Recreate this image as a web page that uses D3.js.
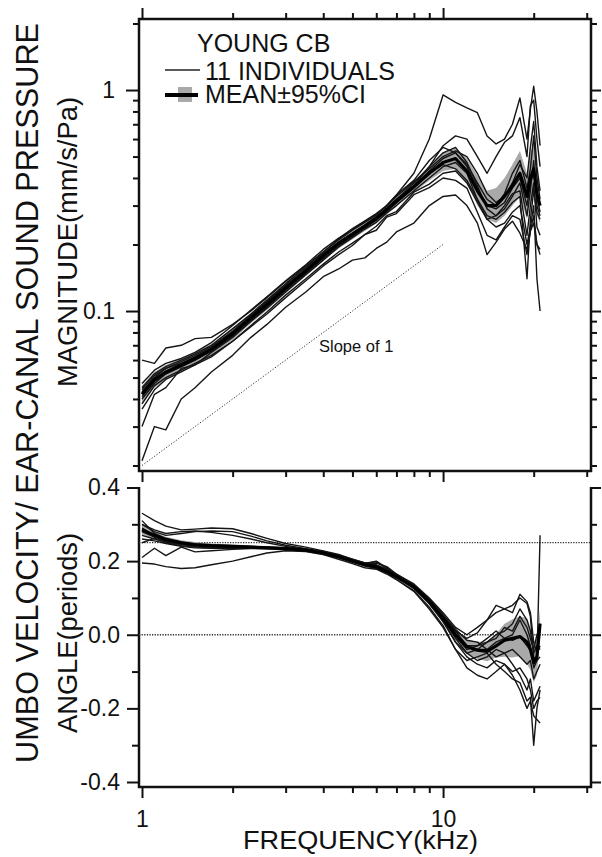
<!DOCTYPE html>
<html>
<head>
<meta charset="utf-8">
<script src="https://cdn.jsdelivr.net/npm/d3@7"></script>
<style>
  body { margin: 0; background: #fff; }
  svg { font-family: "Liberation Sans", Arial, sans-serif; }
</style>
</head>
<body>
<div id="chart"></div>
<script>
// frequency grid (kHz) shared by every curve
const freqs = [1, 1.1, 1.2, 1.35, 1.5, 1.7, 2, 2.3, 2.6, 3, 3.5, 4, 4.5, 5, 5.5, 6,
  6.5, 7, 8, 9, 10, 11, 12, 13, 14, 15, 16, 17, 18, 19, 19.5, 20, 20.5, 21];

// magnitude (mm/s/Pa): mean and 95% confidence band
const magMean = [0.042, 0.049, 0.053, 0.057, 0.061, 0.067,
  0.079, 0.093, 0.107, 0.127, 0.152,
  0.178, 0.202, 0.222, 0.242, 0.262,
  0.288, 0.315, 0.365, 0.42, 0.47,
  0.49, 0.43, 0.35, 0.30, 0.30,
  0.33, 0.37, 0.42, 0.33, 0.40,
  0.44, 0.34, 0.30];
const magLo = [0.038, 0.045, 0.049, 0.053, 0.057, 0.063,
  0.074, 0.088, 0.101, 0.120, 0.144,
  0.169, 0.192, 0.211, 0.230, 0.249,
  0.273, 0.298, 0.345, 0.39, 0.43,
  0.44, 0.38, 0.30, 0.26, 0.25,
  0.27, 0.30, 0.33, 0.26, 0.31,
  0.34, 0.27, 0.25];
const magHi = [0.046, 0.053, 0.057, 0.061, 0.065, 0.071,
  0.084, 0.098, 0.113, 0.134, 0.160,
  0.187, 0.212, 0.233, 0.254, 0.275,
  0.303, 0.332, 0.385, 0.45, 0.52,
  0.55, 0.49, 0.41, 0.35, 0.36,
  0.40, 0.46, 0.53, 0.42, 0.52,
  0.57, 0.44, 0.36];

// magnitude of the 11 individual ears
const magIndividuals = [
  [0.021, 0.030, 0.029, 0.040, 0.045, 0.053, 0.063, 0.076, 0.087, 0.104, 0.122,
   0.143, 0.155, 0.170, 0.174, 0.192, 0.205, 0.228, 0.250, 0.300, 0.330,
   0.335, 0.300, 0.250, 0.180, 0.205, 0.235, 0.255, 0.225, 0.190, 0.230, 0.250, 0.200, 0.190],
  [0.045, 0.052, 0.056, 0.060, 0.064, 0.070, 0.083, 0.097, 0.112, 0.133, 0.158,
   0.185, 0.210, 0.232, 0.252, 0.272, 0.300, 0.335, 0.420, 0.600, 0.950,
   0.880, 0.830, 0.790, 0.620, 0.570, 0.600, 0.700, 0.920, 0.600, 0.820, 1.040, 0.800, 0.560],
  [0.040, 0.047, 0.052, 0.056, 0.060, 0.066, 0.078, 0.092, 0.105, 0.125, 0.150,
   0.175, 0.200, 0.220, 0.240, 0.260, 0.285, 0.310, 0.370, 0.450, 0.560,
   0.620, 0.600, 0.500, 0.420, 0.500, 0.580, 0.620, 0.750, 0.500, 0.850, 0.900, 0.600, 0.450],
  [0.060, 0.058, 0.068, 0.070, 0.075, 0.076, 0.087, 0.100, 0.115, 0.136, 0.160,
   0.185, 0.212, 0.236, 0.256, 0.276, 0.300, 0.335, 0.390, 0.480, 0.550,
   0.520, 0.450, 0.360, 0.300, 0.290, 0.310, 0.360, 0.400, 0.300, 0.380, 0.420, 0.330, 0.280],
  [0.030, 0.042, 0.045, 0.055, 0.057, 0.065, 0.076, 0.090, 0.103, 0.122, 0.146,
   0.170, 0.195, 0.215, 0.235, 0.252, 0.278, 0.300, 0.350, 0.400, 0.450,
   0.470, 0.420, 0.320, 0.260, 0.270, 0.300, 0.340, 0.350, 0.220, 0.300, 0.380, 0.240, 0.220],
  [0.043, 0.050, 0.055, 0.058, 0.062, 0.068, 0.080, 0.095, 0.110, 0.130, 0.155,
   0.182, 0.205, 0.225, 0.245, 0.268, 0.292, 0.320, 0.370, 0.430, 0.490,
   0.520, 0.460, 0.380, 0.320, 0.300, 0.340, 0.420, 0.480, 0.360, 0.440, 0.620, 0.400, 0.320],
  [0.044, 0.051, 0.055, 0.059, 0.063, 0.069, 0.081, 0.096, 0.110, 0.131, 0.154,
   0.180, 0.205, 0.225, 0.244, 0.265, 0.290, 0.320, 0.380, 0.450, 0.520,
   0.550, 0.470, 0.370, 0.290, 0.270, 0.290, 0.330, 0.380, 0.270, 0.350, 0.480, 0.300, 0.270],
  [0.036, 0.044, 0.049, 0.053, 0.057, 0.062, 0.073, 0.086, 0.099, 0.118, 0.140,
   0.163, 0.185, 0.203, 0.222, 0.242, 0.270, 0.282, 0.345, 0.375, 0.420,
   0.430, 0.380, 0.310, 0.260, 0.240, 0.250, 0.280, 0.300, 0.200, 0.240, 0.300, 0.140, 0.100],
  [0.041, 0.048, 0.052, 0.056, 0.060, 0.066, 0.077, 0.090, 0.104, 0.124, 0.148,
   0.173, 0.197, 0.218, 0.238, 0.258, 0.282, 0.308, 0.360, 0.420, 0.460,
   0.440, 0.390, 0.320, 0.270, 0.260, 0.280, 0.310, 0.330, 0.140, 0.260, 0.350, 0.280, 0.260],
  [0.047, 0.054, 0.058, 0.061, 0.065, 0.072, 0.086, 0.101, 0.116, 0.137, 0.162,
   0.190, 0.214, 0.234, 0.254, 0.274, 0.298, 0.330, 0.385, 0.440, 0.500,
   0.530, 0.500, 0.420, 0.340, 0.310, 0.330, 0.380, 0.460, 0.400, 0.550, 0.720, 0.450, 0.350],
  [0.038, 0.046, 0.050, 0.054, 0.058, 0.063, 0.073, 0.085, 0.097, 0.115, 0.137,
   0.160, 0.180, 0.198, 0.222, 0.232, 0.266, 0.276, 0.336, 0.362, 0.400,
   0.390, 0.360, 0.280, 0.220, 0.210, 0.240, 0.270, 0.260, 0.180, 0.230, 0.270, 0.200, 0.180]
];

// angle (periods): mean and 95% confidence band
const angMean = [0.285, 0.270, 0.258, 0.250, 0.245, 0.242,
  0.240, 0.238, 0.236, 0.234, 0.230,
  0.222, 0.212, 0.200, 0.190, 0.185,
  0.172, 0.158, 0.130, 0.090, 0.045,
  0.000, -0.032, -0.042, -0.045, -0.030,
  -0.015, -0.010, -0.005, -0.020, -0.040,
  -0.075, -0.060, 0.030];
const angLo = [0.272, 0.260, 0.250, 0.243, 0.238, 0.236,
  0.235, 0.233, 0.231, 0.229, 0.225,
  0.216, 0.206, 0.194, 0.184, 0.178,
  0.165, 0.150, 0.122, 0.080, 0.033,
  -0.015, -0.050, -0.065, -0.072, -0.062,
  -0.060, -0.062, -0.058, -0.080, -0.095,
  -0.130, -0.110, -0.010];
const angHi = [0.298, 0.280, 0.266, 0.257, 0.252, 0.248,
  0.245, 0.243, 0.241, 0.239, 0.235,
  0.228, 0.218, 0.206, 0.196, 0.192,
  0.179, 0.166, 0.138, 0.100, 0.057,
  0.015, -0.014, -0.019, -0.018, 0.002,
  0.030, 0.042, 0.050, 0.045, 0.015,
  -0.020, -0.010, 0.070];

// angle of the 11 individual ears
const angIndividuals = [
  [0.195, 0.192, 0.185, 0.180, 0.182, 0.190, 0.200, 0.212, 0.222, 0.228, 0.226,
   0.218, 0.205, 0.193, 0.182, 0.178, 0.165, 0.150, 0.120, 0.075, 0.025,
   -0.040, -0.090, -0.110, -0.120, -0.100, -0.080, -0.110, -0.150, -0.200, -0.180, -0.220, -0.230, -0.240],
  [0.330, 0.310, 0.295, 0.285, 0.287, 0.290, 0.288, 0.275, 0.262, 0.248, 0.238,
   0.228, 0.218, 0.205, 0.195, 0.190, 0.178, 0.165, 0.138, 0.100, 0.060,
   0.020, 0.000, 0.020, 0.040, 0.060, 0.070, 0.080, 0.100, 0.085, 0.050, -0.060, -0.070, 0.270],
  [0.300, 0.285, 0.275, 0.280, 0.282, 0.278, 0.270, 0.260, 0.250, 0.240, 0.232,
   0.224, 0.214, 0.202, 0.190, 0.195, 0.185, 0.165, 0.135, 0.095, 0.050,
   0.010, -0.010, 0.005, 0.040, 0.080, 0.070, 0.060, 0.110, 0.090, 0.060, -0.020, -0.050, -0.030],
  [0.210, 0.235, 0.215, 0.238, 0.225, 0.228, 0.232, 0.234, 0.234, 0.233, 0.229,
   0.220, 0.210, 0.198, 0.188, 0.180, 0.168, 0.150, 0.118, 0.070, 0.020,
   -0.040, -0.070, -0.060, -0.050, -0.080, -0.100, -0.120, -0.130, -0.180, -0.170, -0.300, -0.200, -0.150],
  [0.290, 0.270, 0.255, 0.245, 0.240, 0.238, 0.238, 0.237, 0.236, 0.234, 0.230,
   0.222, 0.212, 0.200, 0.190, 0.184, 0.170, 0.156, 0.128, 0.088, 0.045,
   0.000, -0.030, -0.040, -0.040, -0.020, -0.010, -0.015, -0.005, -0.030, -0.040, -0.080, -0.060, 0.030],
  [0.280, 0.265, 0.255, 0.248, 0.243, 0.240, 0.238, 0.236, 0.235, 0.233, 0.229,
   0.221, 0.211, 0.199, 0.188, 0.185, 0.172, 0.158, 0.132, 0.095, 0.050,
   0.010, -0.030, -0.030, -0.010, 0.010, -0.010, 0.000, 0.040, 0.000, -0.030, -0.090, -0.070, -0.060],
  [0.270, 0.260, 0.252, 0.246, 0.242, 0.240, 0.240, 0.239, 0.238, 0.236, 0.232,
   0.224, 0.215, 0.205, 0.195, 0.198, 0.180, 0.162, 0.135, 0.095, 0.040,
   -0.020, -0.060, -0.080, -0.090, -0.070, -0.080, -0.100, -0.090, -0.120, -0.150, -0.200, -0.180, -0.170],
  [0.260, 0.255, 0.248, 0.240, 0.236, 0.235, 0.235, 0.235, 0.235, 0.234, 0.231,
   0.223, 0.213, 0.200, 0.190, 0.182, 0.170, 0.160, 0.135, 0.098, 0.055,
   0.015, -0.015, -0.020, -0.040, -0.060, -0.050, -0.040, -0.060, -0.080, -0.070, -0.120, -0.100, -0.080],
  [0.310, 0.275, 0.262, 0.252, 0.246, 0.244, 0.242, 0.240, 0.238, 0.236, 0.231,
   0.223, 0.213, 0.201, 0.192, 0.188, 0.174, 0.158, 0.126, 0.085, 0.040,
   -0.005, -0.040, -0.030, -0.020, -0.010, 0.020, 0.010, 0.050, 0.020, -0.010, -0.040, 0.000, 0.020],
  [0.250, 0.262, 0.250, 0.242, 0.238, 0.236, 0.236, 0.236, 0.236, 0.235, 0.231,
   0.224, 0.214, 0.202, 0.192, 0.186, 0.172, 0.158, 0.130, 0.090, 0.045,
   -0.010, -0.050, -0.070, -0.060, -0.040, -0.050, -0.080, -0.110, -0.150, -0.120, -0.180, -0.160, -0.140],
  [0.300, 0.280, 0.270, 0.275, 0.280, 0.282, 0.280, 0.268, 0.255, 0.243, 0.234,
   0.226, 0.216, 0.204, 0.193, 0.200, 0.182, 0.162, 0.130, 0.085, 0.035,
   -0.020, -0.050, -0.040, -0.020, 0.000, 0.010, 0.030, 0.070, 0.040, 0.010, -0.050, -0.030, -0.040]
];

// tick values and reference lines
const freqMajorTicks = [1, 10];
const freqMinorTicks = [2, 3, 4, 5, 6, 7, 8, 9, 20, 30];
const magMajorTicks = [0.1, 1];
const magMinorTicks = [0.02, 0.03, 0.04, 0.05, 0.06, 0.07, 0.08, 0.09,
  0.2, 0.3, 0.4, 0.5, 0.6, 0.7, 0.8, 0.9, 2];
const angMajorTicks = [-0.4, -0.2, 0, 0.2, 0.4];
const angMinorTicks = [-0.3, -0.1, 0.1, 0.3];
const slopeFreqs = [1, 10];
const slopeMags = [0.02, 0.2];
const angRefLines = [0.25, 0];

// page layout
let width = 602,
  height = 857,
  left = 139,
  right = 591,
  topPanel = {top: 19, bottom: 471},
  lowPanel = {top: 487, bottom: 787},
  ink = '#111';

let svg = d3.select('#chart')
  .append('svg')
    .attr('width', width)
    .attr('height', height);

// scales
let x = d3.scaleLog()
  .domain([1, 31])
  .range([142, 591]);

let yMag = d3.scaleLog()
  .domain([0.02, 2])
  .range([465.5, 23.5]);

let yAng = d3.scaleLinear()
  .domain([-0.4, 0.4])
  .range([782, 487.5]);

// draws one axis, removes its domain and styles ticks
function addAxis(axis, transform) {
  let g = svg.append('g')
    .attr('transform', transform)
    .call(axis);
  g.select('.domain').remove();
  g.selectAll('.tick line')
    .attr('stroke', ink)
    .attr('stroke-width', 2);
  g.selectAll('.tick text')
    .attr('fill', ink)
    .style('font-size', '23px')
    .style('font-family', '"Liberation Sans", Arial, sans-serif');
  return g;
}

// frames
svg.append('path')
  .attr('d', 'M' + left + ',' + topPanel.top + 'H' + right + 'V' + topPanel.bottom +
    'H' + left + 'Z')
  .attr('fill', 'none')
  .attr('stroke', ink)
  .attr('stroke-width', 2.5);

svg.append('path')
  .attr('d', 'M' + left + ',' + lowPanel.top + 'V' + lowPanel.bottom + 'H' + right +
    'V' + lowPanel.top)
  .attr('fill', 'none')
  .attr('stroke', ink)
  .attr('stroke-width', 2.5);

// frequency axes (top and bottom of the top panel, bottom of the low panel)
let noLabel = () => '';
addAxis(d3.axisTop(x).tickValues(freqMajorTicks).tickSize(11).tickFormat(noLabel),
  'translate(0,' + topPanel.top + ')');
addAxis(d3.axisTop(x).tickValues(freqMinorTicks).tickSize(6).tickFormat(noLabel),
  'translate(0,' + topPanel.top + ')');
addAxis(d3.axisBottom(x).tickValues(freqMajorTicks).tickSize(11).tickFormat(noLabel),
  'translate(0,' + topPanel.bottom + ')');
addAxis(d3.axisBottom(x).tickValues(freqMinorTicks).tickSize(6).tickFormat(noLabel),
  'translate(0,' + topPanel.bottom + ')');
addAxis(d3.axisBottom(x).tickValues(freqMajorTicks).tickSize(11).tickPadding(13)
  .tickFormat(d => String(d)), 'translate(0,' + lowPanel.bottom + ')');
addAxis(d3.axisBottom(x).tickValues(freqMinorTicks).tickSize(6).tickFormat(noLabel),
  'translate(0,' + lowPanel.bottom + ')');

// magnitude axes
addAxis(d3.axisLeft(yMag).tickValues(magMajorTicks).tickSize(13).tickPadding(11)
  .tickFormat(d => String(d)), 'translate(' + left + ',0)');
addAxis(d3.axisLeft(yMag).tickValues(magMinorTicks).tickSize(6).tickFormat(noLabel),
  'translate(' + left + ',0)');
addAxis(d3.axisRight(yMag).tickValues(magMajorTicks).tickSize(10).tickFormat(noLabel),
  'translate(' + right + ',0)');
addAxis(d3.axisRight(yMag).tickValues(magMinorTicks).tickSize(6).tickFormat(noLabel),
  'translate(' + right + ',0)');

// angle axes
addAxis(d3.axisLeft(yAng).tickValues(angMajorTicks).tickSize(12).tickPadding(7)
  .tickFormat(d => d.toFixed(1)), 'translate(' + left + ',0)');
addAxis(d3.axisLeft(yAng).tickValues(angMinorTicks).tickSize(7).tickFormat(noLabel),
  'translate(' + left + ',0)');
addAxis(d3.axisRight(yAng).tickValues(angMajorTicks).tickSize(10).tickFormat(noLabel),
  'translate(' + right + ',0)');
addAxis(d3.axisRight(yAng).tickValues(angMinorTicks).tickSize(6).tickFormat(noLabel),
  'translate(' + right + ',0)');

// reference lines: slope of 1 and the 0.25 / 0 period lines
svg.append('path')
  .attr('d', d3.line()(slopeFreqs.map((f, i) => [x(f), yMag(slopeMags[i])])))
  .attr('fill', 'none')
  .attr('stroke', '#333')
  .attr('stroke-width', 1)
  .attr('stroke-dasharray', '1.2,1.8');

svg.append('text')
  .attr('x', 319)
  .attr('y', 352)
  .attr('fill', ink)
  .style('font-size', '16.5px')
  .text('Slope of 1');

svg.selectAll('.refline')
  .data(angRefLines)
  .enter()
  .append('line')
    .attr('class', 'refline')
    .attr('x1', left)
    .attr('x2', right)
    .attr('y1', d => yAng(d))
    .attr('y2', d => yAng(d))
    .attr('stroke', '#333')
    .attr('stroke-width', 1.3)
    .attr('stroke-dasharray', '1.3,1.3');

// draws confidence band, individual curves and mean for one panel
function drawPanel(yScale, lo, hi, mean, individuals) {
  let band = d3.area()
    .x((d, i) => x(freqs[i]))
    .y0((d, i) => yScale(lo[i]))
    .y1((d, i) => yScale(hi[i]));
  svg.append('path')
    .attr('d', band(freqs))
    .attr('fill', '#a9a9a9')
    .attr('stroke', 'none');

  let line = d3.line()
    .x((d, i) => x(freqs[i]))
    .y(d => yScale(d));

  svg.append('g')
    .selectAll('path')
    .data(individuals)
    .enter()
    .append('path')
      .attr('d', d => line(d))
      .attr('fill', 'none')
      .attr('stroke', '#151515')
      .attr('stroke-width', 1.4)
      .attr('stroke-linejoin', 'round');

  svg.append('path')
    .attr('d', line(mean))
    .attr('fill', 'none')
    .attr('stroke', '#000')
    .attr('stroke-width', 3.2)
    .attr('stroke-linejoin', 'round');
}

drawPanel(yMag, magLo, magHi, magMean, magIndividuals);
drawPanel(yAng, angLo, angHi, angMean, angIndividuals);

// legend
svg.append('text')
  .attr('x', 197)
  .attr('y', 52)
  .attr('fill', ink)
  .style('font-size', '25px')
  .text('YOUNG CB');

svg.append('line')
  .attr('x1', 165).attr('x2', 200)
  .attr('y1', 70).attr('y2', 70)
  .attr('stroke', '#222')
  .attr('stroke-width', 1.3);

svg.append('text')
  .attr('x', 205)
  .attr('y', 80)
  .attr('fill', ink)
  .style('font-size', '25px')
  .text('11 INDIVIDUALS');

svg.append('rect')
  .attr('x', 178).attr('y', 87)
  .attr('width', 14).attr('height', 15)
  .attr('fill', '#a9a9a9');

svg.append('line')
  .attr('x1', 165).attr('x2', 198)
  .attr('y1', 95).attr('y2', 95)
  .attr('stroke', '#000')
  .attr('stroke-width', 4);

svg.append('text')
  .attr('x', 205)
  .attr('y', 103)
  .attr('fill', ink)
  .style('font-size', '25px')
  .text('MEAN±95%CI');

// axis titles
function vertTitle(txt, xPos, yCenter, size, len) {
  svg.append('text')
    .attr('transform', 'translate(' + xPos + ',' + yCenter + ') rotate(-90)')
    .attr('text-anchor', 'middle')
    .attr('fill', ink)
    .attr('textLength', len)
    .attr('lengthAdjust', 'spacingAndGlyphs')
    .style('font-size', size + 'px')
    .text(txt);
}

vertTitle('UMBO VELOCITY/ EAR-CANAL SOUND PRESSURE', 38, 393, 30.5, 740);
vertTitle('MAGNITUDE(mm/s/Pa)', 77, 242, 27, 290);
vertTitle('ANGLE(periods)', 77, 633, 27, 200);

svg.append('text')
  .attr('x', 243)
  .attr('y', 849)
  .attr('fill', ink)
  .attr('textLength', 235)
  .attr('lengthAdjust', 'spacingAndGlyphs')
  .style('font-size', '26px')
  .text('FREQUENCY(kHz)');
</script>
</body>
</html>
